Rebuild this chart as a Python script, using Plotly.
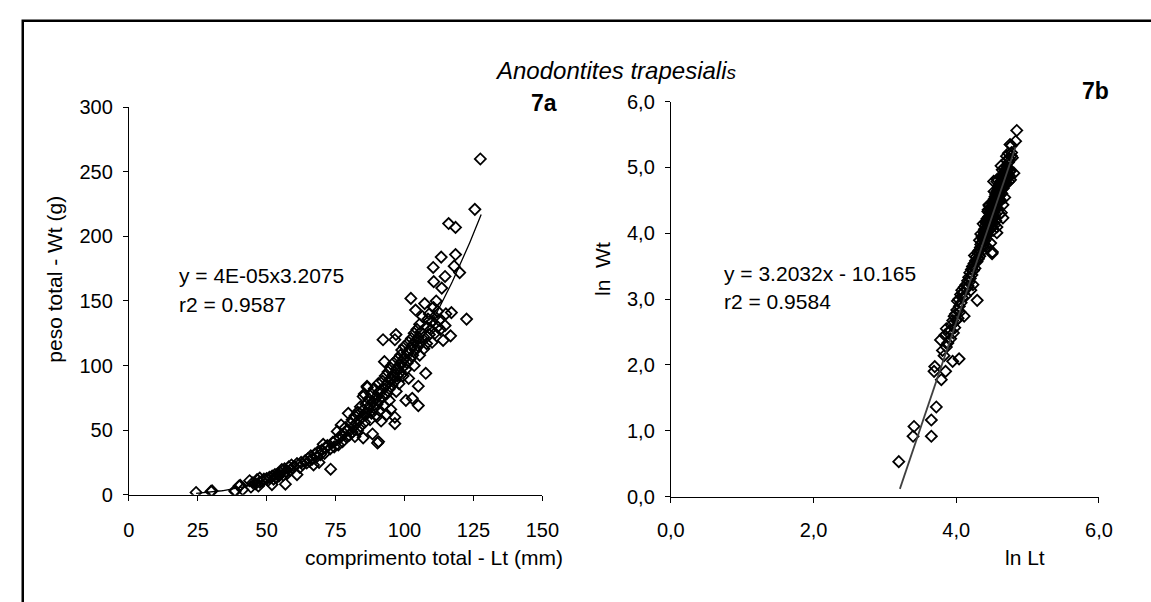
import numpy as np
import plotly.graph_objects as go

# ---- data: total length Lt (mm) and total weight Wt (g)
lt_small = [24.4, 29.8, 30.2, 38.5, 38.5, 41.3, 40.0, 40.4, 44.3, 47.0, 43.8, 45.0, 46.5, 47.5, 48.5, 49.0, 47.5, 46.0]
wt_small = [1.7, 2.5, 2.9, 2.5, 3.2, 3.9, 6.7, 7.2, 5.9, 6.7, 10.8, 9.2, 11.6, 9.7, 10.3, 12.0, 12.8, 8.5]

lt_50 = [50.0, 50.5, 51.0, 51.9, 52.0, 52.5, 53.0, 53.5, 54.0, 54.5, 55.0, 55.5, 56.0, 56.8, 56.5, 57.0, 57.5, 58.0, 58.5,
         59.0, 59.5, 60.0, 61.0, 61.0, 62.0, 62.5, 63.0, 64.0, 64.5]
wt_50 = [12.5, 11.0, 13.5, 7.8, 14.5, 12.0, 15.5, 13.0, 16.0, 14.5, 17.0, 19.5, 15.0, 8.1, 20.0, 18.0, 16.5, 21.5, 19.0,
         23.0, 20.5, 22.0, 15.5, 24.0, 21.0, 25.0, 23.5, 26.5, 24.5]

lt_65 = [65.0, 65.5, 66.0, 66.5, 67.0, 67.5, 68.0, 68.5, 69.0, 69.5, 70.0, 70.5, 71.0, 71.5, 72.0, 73.2, 73.0, 74.0, 74.5, 75.0]
wt_65 = [28.0, 26.0, 30.0, 27.5, 23.0, 31.5, 29.0, 33.0, 25.0, 31.0, 34.5, 39.0, 32.0, 36.0, 38.0, 19.7, 35.5, 40.5, 37.0, 42.0]

lt_75 = [75.6, 76.0, 76.5, 77.0, 77.0, 77.5, 78.0, 78.5, 79.0, 79.6, 79.5, 80.0, 80.5, 81.0, 81.0, 81.5, 82.0, 82.0,
         82.5, 83.0, 83.0, 83.7, 83.5, 84.0, 84.0, 84.5, 85.0, 85.0, 85.0, 85.5, 86.0, 86.4, 86.0, 86.5, 87.0]
wt_75 = [49.0, 38.5, 44.0, 54.0, 46.0, 41.0, 47.5, 52.0, 44.5, 63.0, 50.0, 46.0, 55.0, 48.5, 58.0, 52.5, 45.0, 61.0,
         55.5, 50.0, 64.0, 63.0, 57.5, 53.0, 68.0, 60.0, 44.0, 76.0, 65.5, 56.0, 70.0, 84.0, 62.0, 83.0, 66.0]

lt_87 = [87.0, 87.5, 87.5, 88.0, 88.0, 88.4, 88.5, 89.0, 89.0, 89.5, 90.0, 90.2, 90.0, 90.5, 90.5, 91.0, 91.0, 91.5,
         91.5, 92.0, 92.2, 92.7, 92.0, 92.5, 93.0, 93.0, 93.5, 93.5, 94.0, 94.0, 94.5, 94.5, 95.0, 95.0, 95.0, 95.5,
         96.0, 96.0, 96.5, 96.5, 96.5, 96.9, 96.5, 97.0, 97.0, 97.5, 97.5, 85.4, 90.6]
wt_87 = [74.0, 58.0, 69.0, 78.0, 63.0, 47.0, 72.0, 67.0, 82.0, 75.0, 70.0, 40.0, 60.5, 79.0, 86.0, 73.0, 65.0, 81.0,
         57.0, 88.0, 120.0, 103.0, 76.0, 69.0, 84.0, 92.0, 78.0, 62.0, 87.0, 95.0, 82.0, 73.0, 90.0, 98.0, 66.0, 85.0,
         93.0, 102.0, 60.0, 55.0, 120.0, 124.0, 88.0, 97.0, 80.0, 105.0, 92.0, 78.0, 41.0]

lt_98 = [98.0, 98.0, 98.5, 98.5, 99.0, 99.0, 99.5, 99.5, 100.0, 100.0, 100.5, 100.5, 101.0, 101.0, 101.5, 101.5,
         102.0, 102.3, 102.0, 102.8, 102.5, 103.0, 103.0, 103.5, 103.5, 104.0, 104.0, 104.0, 104.5, 105.0, 105.0,
         105.0, 105.0, 105.5, 105.5, 106.0, 106.0, 106.5, 107.0, 107.3, 107.0, 107.7, 108.0, 108.0, 108.5, 109.0,
         109.0, 109.5, 110.0, 110.4, 110.6, 110.0]
wt_98 = [100.0, 86.0, 108.0, 95.0, 103.0, 112.0, 92.0, 99.0, 106.0, 115.0, 73.0, 97.0, 110.0, 102.0, 118.0, 90.0,
         113.0, 152.0, 105.0, 74.6, 121.0, 108.0, 116.0, 125.0, 100.0, 143.0, 112.0, 119.0, 128.0, 84.0, 69.0,
         115.0, 122.0, 132.0, 108.0, 118.0, 126.0, 138.0, 113.0, 148.0, 122.0, 94.0, 130.0, 117.0, 136.0, 124.0,
         140.0, 128.0, 118.0, 176.0, 165.0, 134.0]

lt_110 = [110.5, 111.0, 111.0, 111.5, 112.0, 112.0, 112.5, 113.3, 113.0, 113.5, 114.0, 114.7, 114.7, 115.0, 116.0,
          116.7, 117.0, 118.0, 118.5, 118.5, 120.0, 122.5, 125.5, 127.5]
wt_110 = [145.0, 125.0, 138.0, 150.0, 130.0, 142.0, 135.0, 184.0, 128.0, 160.0, 119.5, 131.0, 169.0, 140.0, 210.0,
          123.0, 141.0, 177.0, 207.0, 186.0, 172.0, 136.0, 221.0, 260.0]

# trend lines as printed on the chart
power_a, power_b = 3.8e-05, 3.2075          # y = 4E-05 x^3.2075
lin_slope, lin_icpt = 3.2032, -10.165        # y = 3.2032x - 10.165
power_x_range = [24.4, 127.8]
lin_x_range = [3.21, 4.83]

eq_a = ["y = 4E-05x3.2075", "r2 = 0.9587"]
eq_b = ["y = 3.2032x - 10.165", "r2 = 0.9584"]

lt = np.array(lt_small + lt_50 + lt_65 + lt_75 + lt_87 + lt_98 + lt_110)
wt = np.array(wt_small + wt_50 + wt_65 + wt_75 + wt_87 + wt_98 + wt_110)
ln_lt = np.log(lt)
ln_wt = np.log(wt)

W, H = 1151, 602
def px(x):
    return x / W
def py(y):
    return 1 - y / H

FONT = "Liberation Sans, Arial, sans-serif"
fig = go.Figure()
marker = dict(symbol="diamond-open", size=8.5, color="black", line=dict(width=1.8, color="black"))

fig.add_trace(go.Scatter(x=lt, y=wt, mode="markers", marker=marker, xaxis="x", yaxis="y", showlegend=False))
cx = np.linspace(power_x_range[0], power_x_range[1], 200)
fig.add_trace(go.Scatter(x=cx, y=power_a * cx ** power_b, mode="lines",
                         line=dict(color="black", width=1.3), xaxis="x", yaxis="y", showlegend=False))

fig.add_trace(go.Scatter(x=ln_lt, y=ln_wt, mode="markers", marker=marker, xaxis="x2", yaxis="y2", showlegend=False))
lx = np.array(lin_x_range)
fig.add_trace(go.Scatter(x=lx, y=lin_slope * lx + lin_icpt, mode="lines",
                         line=dict(color="#404040", width=1.8), xaxis="x2", yaxis="y2", showlegend=False))

tickfont = dict(family=FONT, size=20, color="black")
axis_common = dict(showgrid=False, zeroline=False, showline=True, linecolor="black", linewidth=1,
                   ticks="outside", ticklen=5, tickcolor="black", tickwidth=1, tickfont=tickfont)

fig.update_layout(
    width=W, height=H, margin=dict(l=0, r=0, t=0, b=0),
    paper_bgcolor="white", plot_bgcolor="white",
    separators=",.",
    xaxis=dict(domain=[px(118), px(543)], range=[0, 150], tickvals=[0, 25, 50, 75, 100, 125, 150],
               anchor="y", ticklabelstandoff=12, **axis_common),
    yaxis=dict(domain=[py(502), py(100)], range=[0, 300], tickvals=[0, 50, 100, 150, 200, 250, 300],
               anchor="x", ticklabelstandoff=6, **axis_common),
    xaxis2=dict(domain=[px(675), px(1115)], range=[0, 6], tickvals=[0, 2, 4, 6], tickformat=".1f",
                anchor="y2", ticklabelstandoff=10, **axis_common),
    yaxis2=dict(domain=[py(504), py(94)], range=[0, 6], tickvals=[0, 1, 2, 3, 4, 5, 6], tickformat=".1f",
                anchor="x2", ticklabelstandoff=6, **axis_common),
)

txt = dict(family=FONT, size=21, color="black")
ann = []
def add(text, x, y, xanchor="center", yanchor="middle", font=txt, angle=0):
    ann.append(dict(text=text, x=px(x), y=py(y), xref="paper", yref="paper", showarrow=False,
                    xanchor=xanchor, yanchor=yanchor, font=font, textangle=angle))

add("<i>Anodontites trapesiali<span style='font-size:19px'>s</span></i>", 618, 62,
    font=dict(family=FONT, size=24, color="black"))
add("<b>7a</b>", 545, 95, font=dict(family=FONT, size=23, color="black"))
add("<b>7b</b>", 1111, 83, font=dict(family=FONT, size=23, color="black"))
add(eq_a[0], 168, 275, xanchor="left")
add(eq_a[1], 168, 305, xanchor="left")
add(eq_b[0], 728, 272, xanchor="left")
add(eq_b[1], 728, 302, xanchor="left")
add("peso total - Wt (g)", 42, 278, angle=-90)
add("ln  Wt", 604, 268, angle=-90)
add("comprimento total - Lt (mm)", 432, 567)
add("ln Lt", 1039, 567)
fig.update_layout(annotations=ann)

fig.add_shape(type="rect", xref="paper", yref="paper", x0=px(9), x1=px(W + 20), y0=py(H + 20), y1=py(10),
              line=dict(color="black", width=2.5), fillcolor="rgba(0,0,0,0)", layer="above")

fig.write_html("out.html")
